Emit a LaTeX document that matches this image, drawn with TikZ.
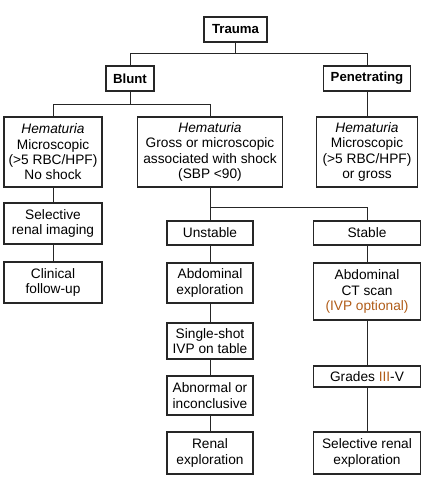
\documentclass[tikz,border=0pt]{standalone}
\usepackage{fontspec}
\setmainfont{Liberation Sans}
\usetikzlibrary{positioning,calc}
\definecolor{ivpcol}{RGB}{176,92,24}
\newcommand{\hemat}{\textit{Hematuria}}

\begin{document}
\begin{tikzpicture}
[x=1pt,y=-1pt,
edge/.style={black!85,line width=1pt},
block/.style={draw=black!85,line width=1.1pt,align=center,inner sep=1pt,outer sep=0pt,
font=\fontsize{13.7}{15.3}\selectfont},
head/.style={block,font=\fontsize{13.2}{15.3}\selectfont\bfseries,minimum height=25pt},
colL/.style={block,minimum width=98pt},
colM/.style={block,minimum width=86pt},
colR/.style={block,minimum width=107pt}]
\useasboundingbox (0,0) rectangle (436,484);
%%
\node[head,minimum width=63pt] (trauma) at (235.5,29.5) {Trauma};
\node[head,minimum width=48pt] (blunt) at (130,78.5) {Blunt};
\node[head,minimum width=87pt] (pen) at (367,78.5) {Penetrating};
%%
\node[block,minimum width=98pt,minimum height=70pt] (hemL) at (53,152)
{\hemat\\Microscopic\\(>5 RBC/HPF)\\No shock};
\node[block,minimum width=145pt,minimum height=70pt] (hemM) at (210,152)
{\hemat\\Gross or microscopic\\associated with shock\\(SBP <90)};
\node[block,minimum width=101pt,minimum height=70pt] (hemR) at (367,152)
{\hemat\\Microscopic\\(>5 RBC/HPF)\\or gross};
%%
\node (selimg) [colL,minimum height=41pt,below=16pt of hemL] {Selective\\renal imaging};
\node (clin) [colL,minimum height=41pt,below=18pt of selimg] {Clinical\\follow-up};
%%
\node (unstable) [colM,minimum height=24pt,below=34pt of hemM] {Unstable};
\node (abdexp) [colM,minimum height=40pt,below=18pt of unstable] {Abdominal\\exploration};
\node (single) [colM,minimum height=36pt,below=20pt of abdexp] {Single-shot\\IVP on table};
\node (abn) [colM,minimum height=39pt,below=17pt of single] {Abnormal or\\inconclusive};
\node (renal) [colM,minimum height=42pt,below=17pt of abn] {Renal\\exploration};
%%
\node (stable) [colR,minimum height=24pt,below=34pt of hemR] {Stable};
\node (ct) [colR,minimum height=57pt,below=18pt of stable]
{Abdominal\\CT scan\\{\color{ivpcol}(IVP optional)}};
\node (grades) [colR,minimum height=21pt,below=46pt of ct] {Grades {\color{ivpcol}III}-V};
\node (selren) [colR,minimum height=42pt,below=45pt of grades] {Selective renal\\exploration};
%%
\draw[edge] (trauma.south) -- ++(0,12) coordinate (jt);
\draw[edge] (jt) -| (blunt.north);
\draw[edge] (jt) -| (pen.north);
\draw[edge] (blunt.south) -- ++(0,14) coordinate (jb);
\draw[edge] (jb) -| (hemL.north);
\draw[edge] (jb) -| (hemM.north);
\draw[edge] (pen) -- (hemR);
\draw[edge] (hemM.south) -- ++(0,20) coordinate (jm);
\draw[edge] (jm) -- (unstable);
\draw[edge] (jm) -| (stable.north);
%%
\draw[edge] (hemL) -- (selimg);
\draw[edge] (selimg) -- (clin);
\draw[edge] (unstable) -- (abdexp);
\draw[edge] (abdexp) -- (single);
\draw[edge] (single) -- (abn);
\draw[edge] (abn) -- (renal);
\draw[edge] (stable) -- (ct);
\draw[edge] (ct) -- (grades);
\draw[edge] (grades) -- (selren);
\end{tikzpicture}
\end{document}
